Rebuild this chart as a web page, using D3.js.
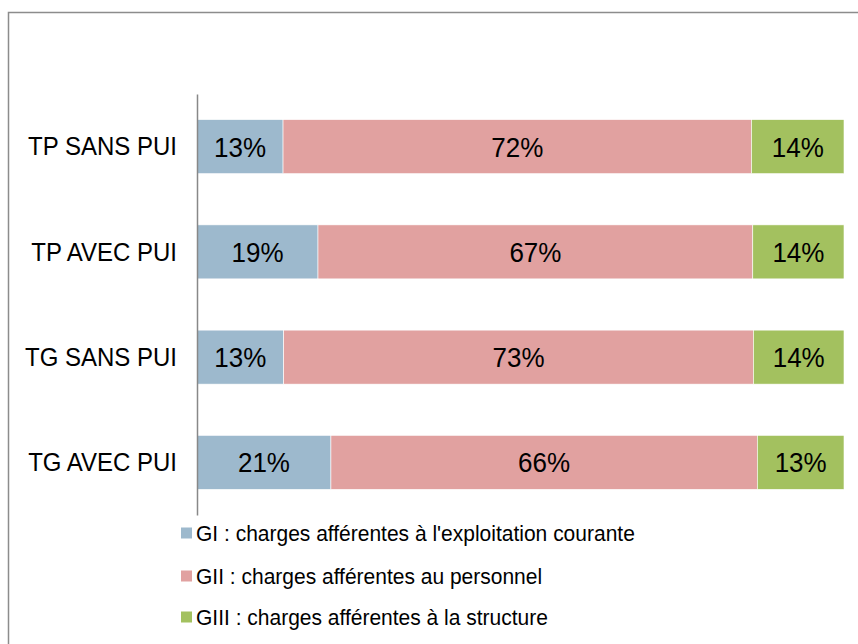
<!DOCTYPE html>
<html><head><meta charset="utf-8">
<script src="https://cdn.jsdelivr.net/npm/d3@7"></script>
<style>body{margin:0;background:#fff}svg{display:block;font-family:Arial,"Liberation Sans",sans-serif}</style>
</head><body>
<script>
const categories = ["TP SANS PUI", "TP AVEC PUI", "TG SANS PUI", "TG AVEC PUI"];
const seriesNames = ["GI : charges afférentes à l'exploitation courante", "GII : charges afférentes au personnel", "GIII : charges afférentes à la structure"];
const gI = [13.3, 18.7, 13.4, 20.7];
const gII = [72.4, 67.2, 72.6, 65.9];
const gIII = [14.3, 14.1, 14.0, 13.4];
const colors = ["#9DB9CD", "#E1A1A0", "#A3C15F"];

const W = 858, H = 644, SY = 1.08;
const svg = d3.select("body").append("svg").attr("width", W).attr("height", H);
svg.append("rect").attr("width", W).attr("height", H).attr("fill", "#fff");
svg.append("rect").attr("x", 8.5).attr("y", 12.5).attr("width", 860).attr("height", 660)
  .attr("fill", "none").attr("stroke", "#8c8c8c").attr("stroke-width", 1.5);

const series = [gI, gII, gIII];
const rows = categories.map((c, i) => {
  const tot = series.reduce((s, a) => s + a[i], 0);
  let acc = 0;
  return series.map((a, k) => { const v = a[i] / tot; const o = {cat: c, k, x0: acc, x1: acc + v, v: a[i]}; acc += v; return o; });
});

const x = d3.scaleLinear().domain([0, 1]).range([197, 844]);
const y = d3.scaleBand().domain(categories).range([94, 515]).paddingInner(0.487).paddingOuter(0.2435);

const g = svg.append("g");
rows.forEach(r => {
  g.selectAll(null).data(r).enter().append("rect")
    .attr("x", d => x(d.x0)).attr("width", d => x(d.x1) - x(d.x0))
    .attr("y", d => y(d.cat)).attr("height", y.bandwidth())
    .attr("fill", d => colors[d.k]).attr("stroke", "#fff").attr("stroke-width", 0.6);
  g.selectAll(null).data(r).enter().append("text")
    .attr("transform", d => `translate(${x((d.x0 + d.x1) / 2)},${y(d.cat) + y.bandwidth() / 2}) scale(1,${SY})`)
    .attr("dy", "0.36em").attr("text-anchor", "middle").attr("font-size", 26).attr("fill", "#000")
    .text(d => Math.round(d.v) + "%");
});

const yAxis = d3.axisLeft(y).tickSize(0).tickPadding(20);
const ax = svg.append("g").attr("transform", "translate(197,0)").call(yAxis);
ax.select(".domain").attr("stroke", "#888").attr("stroke-width", 1.5);
ax.selectAll("text").attr("font-size", 24).attr("fill", "#000").attr("font-family", "Arial, 'Liberation Sans', sans-serif")
  .attr("transform", `scale(1,${SY})`).attr("y", 0).attr("dy", "0.34em");

const legY = [533, 576, 617];
const leg = svg.append("g");
seriesNames.forEach((n, i) => {
  leg.append("rect").attr("x", 181).attr("y", legY[i] - 5.5).attr("width", 11).attr("height", 11).attr("fill", colors[i]);
  leg.append("text").attr("transform", `translate(196,${legY[i]}) scale(1,${SY})`).attr("dy", "0.36em")
    .attr("font-size", 21).attr("fill", "#000").text(n);
});
</script>
</body></html>
